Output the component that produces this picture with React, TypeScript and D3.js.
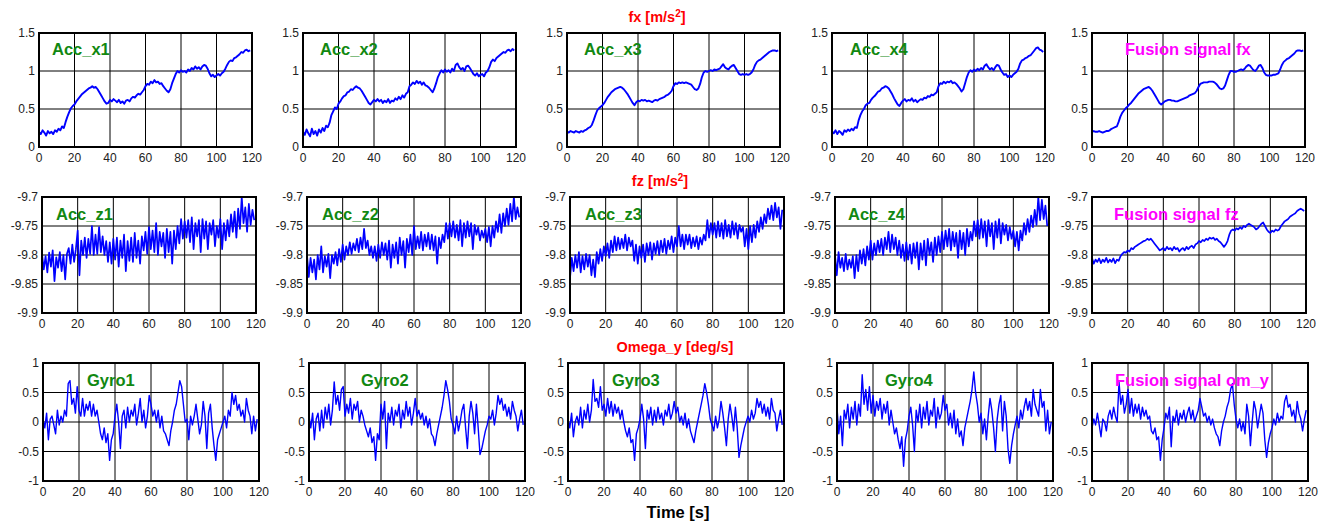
import React from "react";
import * as d3 from "d3";

const width = 1327;
const height = 524;

// time axis, one sample per second
const xTicks = [0, 20, 40, 60, 80, 100, 120];
const fxTicks = [0, 0.5, 1, 1.5];
const fzTicks = [-9.9, -9.85, -9.8, -9.75, -9.7];
const omTicks = [-1, -0.5, 0, 0.5, 1];

const fxLabels = ["Acc_x1", "Acc_x2", "Acc_x3", "Acc_x4", "Fusion signal fx"];
const fzLabels = ["Acc_z1", "Acc_z2", "Acc_z3", "Acc_z4", "Fusion signal fz"];
const omLabels = ["Gyro1", "Gyro2", "Gyro3", "Gyro4", "Fusion signal om_y"];
const rowTitles = ["fx [m/s", "fz [m/s", "Omega_y [deg/s]"];

const accX1 = [
  0.2, 0.17, 0.22, 0.19, 0.15, 0.21, 0.18, 0.2, 0.17, 0.22,
  0.2, 0.24, 0.22, 0.27, 0.25, 0.33, 0.4, 0.46, 0.51, 0.54,
  0.56, 0.6, 0.63, 0.66, 0.69, 0.71, 0.73, 0.75, 0.77, 0.78,
  0.8, 0.78, 0.79, 0.76, 0.72, 0.68, 0.64, 0.6, 0.57, 0.58,
  0.62, 0.6, 0.63, 0.61, 0.59, 0.62, 0.58, 0.6, 0.57, 0.61,
  0.62, 0.6, 0.64, 0.66, 0.65, 0.68, 0.7, 0.69, 0.72, 0.75,
  0.8, 0.83, 0.82, 0.86, 0.84, 0.88, 0.85, 0.86, 0.83, 0.84,
  0.8, 0.77, 0.74, 0.72, 0.76, 0.84, 0.9, 0.96, 1.0, 0.98,
  1.01, 0.99, 1.0, 0.98, 1.02, 1.0, 1.04, 1.02, 1.06, 1.03,
  1.05, 1.02, 1.06, 1.08, 1.07, 1.03, 0.97, 0.93, 0.95, 0.92,
  0.94, 0.96, 0.94, 0.97, 0.99, 1.03, 1.08, 1.12, 1.14, 1.13,
  1.17, 1.18, 1.2, 1.22, 1.25, 1.24, 1.27, 1.28, 1.26, 1.27,
];
const accX2 = [
  0.2, 0.16, 0.23, 0.18, 0.14, 0.24, 0.17, 0.21, 0.15, 0.23,
  0.19, 0.25, 0.21, 0.28, 0.26, 0.32, 0.42, 0.47, 0.52, 0.5,
  0.57, 0.6, 0.64, 0.67, 0.68, 0.72, 0.73, 0.76, 0.75, 0.78,
  0.8, 0.78, 0.77, 0.74, 0.7, 0.66, 0.62, 0.58, 0.56, 0.59,
  0.62, 0.6, 0.63, 0.6, 0.62, 0.58, 0.61, 0.59, 0.63, 0.58,
  0.61, 0.6, 0.64, 0.62, 0.66, 0.63, 0.68, 0.65, 0.7, 0.72,
  0.8, 0.82, 0.85, 0.83, 0.87, 0.84, 0.86, 0.82, 0.85, 0.81,
  0.8, 0.78, 0.75, 0.72, 0.77, 0.84, 0.92, 0.97, 1.01, 0.98,
  1.02, 0.99, 1.01, 0.98, 1.03, 1.0, 1.08, 1.1, 1.05, 1.02,
  1.04, 1.0, 1.06, 1.07, 1.04, 1.0, 0.96, 0.94, 0.97, 0.93,
  0.95, 0.96, 0.93, 0.98, 1.0, 1.05, 1.12, 1.15, 1.13, 1.17,
  1.19, 1.21, 1.23, 1.25, 1.24, 1.27, 1.28, 1.26, 1.29, 1.27,
];
const accX3 = [
  0.2, 0.19, 0.21, 0.2, 0.19, 0.21, 0.2, 0.19, 0.21, 0.2,
  0.22, 0.23, 0.25, 0.26, 0.29, 0.35, 0.42, 0.48, 0.51, 0.53,
  0.55, 0.58, 0.62, 0.66, 0.69, 0.72, 0.74, 0.76, 0.77, 0.78,
  0.79, 0.78, 0.76, 0.73, 0.7, 0.66, 0.62, 0.58, 0.55, 0.59,
  0.61, 0.6, 0.62, 0.61, 0.62, 0.6, 0.61, 0.6, 0.59, 0.61,
  0.62, 0.61, 0.63, 0.64, 0.65, 0.66, 0.68, 0.69, 0.71, 0.74,
  0.8, 0.84, 0.83, 0.85, 0.84, 0.85, 0.84, 0.85, 0.84, 0.83,
  0.82, 0.79, 0.76, 0.75, 0.77, 0.83, 0.92, 0.98, 1.0, 0.99,
  1.0, 1.01, 1.0, 1.02, 1.01, 1.02, 1.03, 1.06, 1.09, 1.05,
  1.03, 1.02, 1.05, 1.07, 1.08, 1.04, 1.0, 0.96, 0.95, 0.96,
  0.95, 0.96, 0.95, 0.96, 0.98, 1.02, 1.08, 1.12, 1.14, 1.15,
  1.17, 1.19, 1.21, 1.23, 1.25, 1.26, 1.27, 1.27, 1.26, 1.27,
];
const accX4 = [
  0.2, 0.18, 0.22, 0.17, 0.21, 0.19, 0.16, 0.22, 0.2, 0.23,
  0.21, 0.24, 0.22, 0.26, 0.25, 0.35, 0.42, 0.47, 0.5, 0.55,
  0.57, 0.58, 0.62, 0.65, 0.67, 0.7, 0.73, 0.74, 0.77, 0.78,
  0.8, 0.79, 0.77, 0.73, 0.69, 0.64, 0.6, 0.56, 0.54, 0.58,
  0.61, 0.63, 0.6, 0.62, 0.61, 0.64, 0.6, 0.62, 0.59, 0.61,
  0.63, 0.62, 0.65, 0.64, 0.67, 0.66, 0.69, 0.68, 0.7, 0.72,
  0.8, 0.84, 0.83, 0.86, 0.84, 0.86, 0.85, 0.87, 0.84, 0.85,
  0.83, 0.8, 0.77, 0.73, 0.76, 0.84, 0.92, 0.98, 1.01, 0.99,
  1.02, 1.0, 1.03, 1.01, 1.04, 1.02, 1.07, 1.09, 1.05, 1.02,
  1.04, 1.01, 1.05, 1.08, 1.07, 1.02, 0.98, 0.95, 0.96, 0.92,
  0.94, 0.92, 0.95, 0.97, 0.99, 1.03, 1.1, 1.14, 1.15, 1.17,
  1.18, 1.2, 1.21, 1.24, 1.27, 1.3, 1.31, 1.28, 1.27, 1.25,
];
const fusionFx = [
  0.2, 0.21, 0.2, 0.2, 0.21, 0.2, 0.19, 0.2, 0.21, 0.21,
  0.22, 0.24, 0.25, 0.26, 0.27, 0.33, 0.4, 0.45, 0.48, 0.51,
  0.53, 0.56, 0.58, 0.61, 0.64, 0.67, 0.7, 0.72, 0.74, 0.76,
  0.77, 0.78, 0.79, 0.77, 0.74, 0.7, 0.66, 0.62, 0.58, 0.56,
  0.58, 0.6, 0.61, 0.62, 0.62, 0.61, 0.61, 0.6, 0.6, 0.61,
  0.62, 0.63, 0.64, 0.65, 0.66, 0.68, 0.69, 0.7, 0.71, 0.74,
  0.79, 0.83, 0.84, 0.85, 0.85, 0.85, 0.86, 0.86, 0.86, 0.85,
  0.83, 0.8, 0.77, 0.76, 0.77, 0.81, 0.88, 0.95, 1.0, 1.0,
  0.99, 0.99, 1.0, 1.01, 1.02, 1.01, 1.03, 1.06, 1.08, 1.07,
  1.04, 1.01, 1.0, 1.03, 1.07, 1.08, 1.04, 0.98, 0.95, 0.94,
  0.94, 0.94, 0.95, 0.95, 0.96, 0.97, 1.02, 1.08, 1.12, 1.14,
  1.16, 1.17, 1.19, 1.21, 1.23, 1.26, 1.27, 1.27, 1.26, 1.27,
];

const accZ1 = [
  -9.798, -9.825, -9.802, -9.83, -9.796, -9.82, -9.792, -9.845, -9.804, -9.822,
  -9.795, -9.828, -9.8, -9.842, -9.798, -9.788, -9.815, -9.782, -9.812, -9.79,
  -9.758, -9.835, -9.775, -9.8, -9.77, -9.805, -9.772, -9.798, -9.75, -9.8,
  -9.765, -9.798, -9.752, -9.795, -9.768, -9.8, -9.776, -9.812, -9.778, -9.815,
  -9.772, -9.808, -9.77, -9.82, -9.775, -9.805, -9.765, -9.828, -9.776, -9.81,
  -9.77, -9.812, -9.762, -9.805, -9.775, -9.815, -9.768, -9.792, -9.76, -9.798,
  -9.752, -9.79, -9.758, -9.795, -9.745, -9.8, -9.76, -9.785, -9.762, -9.805,
  -9.755, -9.795, -9.76, -9.815, -9.758, -9.79, -9.75, -9.78, -9.738, -9.772,
  -9.742, -9.77, -9.74, -9.778, -9.735, -9.79, -9.745, -9.768, -9.74, -9.795,
  -9.738, -9.772, -9.742, -9.79, -9.745, -9.765, -9.74, -9.785, -9.75, -9.77,
  -9.738, -9.79, -9.745, -9.775, -9.74, -9.768, -9.73, -9.76, -9.725, -9.77,
  -9.72, -9.755, -9.7, -9.745, -9.718, -9.76, -9.712, -9.748, -9.722, -9.74,
];
const accZ2 = [
  -9.8, -9.838, -9.805, -9.83, -9.808, -9.842, -9.8, -9.825, -9.785, -9.83,
  -9.802, -9.82, -9.798, -9.84, -9.8, -9.815, -9.795, -9.818, -9.79, -9.812,
  -9.782, -9.808, -9.785, -9.8, -9.778, -9.798, -9.78, -9.792, -9.772, -9.795,
  -9.77, -9.79, -9.755, -9.788, -9.775, -9.8, -9.785, -9.805, -9.785, -9.81,
  -9.782, -9.805, -9.778, -9.8, -9.78, -9.808, -9.775, -9.822, -9.782, -9.805,
  -9.778, -9.815, -9.77, -9.8, -9.776, -9.822, -9.772, -9.795, -9.765, -9.8,
  -9.75, -9.79, -9.768, -9.788, -9.76, -9.792, -9.765, -9.785, -9.762, -9.79,
  -9.765, -9.792, -9.768, -9.815, -9.77, -9.788, -9.765, -9.778, -9.745, -9.772,
  -9.745, -9.768, -9.742, -9.77, -9.748, -9.775, -9.74, -9.785, -9.745, -9.77,
  -9.742, -9.768, -9.745, -9.79, -9.748, -9.765, -9.752, -9.775, -9.758, -9.77,
  -9.755, -9.778, -9.752, -9.785, -9.75, -9.77, -9.742, -9.76, -9.73, -9.762,
  -9.728, -9.75, -9.72, -9.748, -9.712, -9.742, -9.7, -9.738, -9.718, -9.735,
];
const accZ3 = [
  -9.84, -9.805, -9.828, -9.8, -9.822, -9.795, -9.83, -9.802, -9.825, -9.798,
  -9.82, -9.8, -9.835, -9.808, -9.838, -9.795, -9.815, -9.79, -9.81, -9.785,
  -9.802, -9.78, -9.805, -9.775, -9.795, -9.768, -9.792, -9.77, -9.79, -9.772,
  -9.788, -9.765, -9.792, -9.77, -9.785, -9.775, -9.81, -9.782, -9.815, -9.785,
  -9.805, -9.782, -9.812, -9.78, -9.8, -9.778, -9.808, -9.78, -9.798, -9.776,
  -9.8, -9.775, -9.795, -9.772, -9.798, -9.775, -9.79, -9.768, -9.795, -9.77,
  -9.785, -9.75, -9.785, -9.765, -9.79, -9.765, -9.782, -9.765, -9.788, -9.77,
  -9.785, -9.768, -9.79, -9.77, -9.782, -9.765, -9.775, -9.74, -9.77, -9.745,
  -9.765, -9.745, -9.77, -9.742, -9.768, -9.745, -9.772, -9.74, -9.768, -9.748,
  -9.77, -9.742, -9.765, -9.745, -9.772, -9.748, -9.76, -9.752, -9.785, -9.755,
  -9.79, -9.75, -9.778, -9.748, -9.77, -9.742, -9.76, -9.735, -9.755, -9.73,
  -9.745, -9.72, -9.738, -9.715, -9.74, -9.71, -9.735, -9.718, -9.755, -9.722,
];
const accZ4 = [
  -9.8, -9.835, -9.795, -9.822, -9.805, -9.828, -9.798, -9.825, -9.808, -9.822,
  -9.802, -9.84, -9.8, -9.828, -9.792, -9.815, -9.79, -9.818, -9.785, -9.808,
  -9.775, -9.808, -9.78, -9.8, -9.775, -9.795, -9.772, -9.8, -9.77, -9.79,
  -9.76, -9.795, -9.765, -9.79, -9.77, -9.8, -9.775, -9.805, -9.782, -9.81,
  -9.778, -9.808, -9.782, -9.815, -9.78, -9.805, -9.778, -9.825, -9.78, -9.808,
  -9.775, -9.818, -9.772, -9.8, -9.778, -9.812, -9.77, -9.8, -9.768, -9.795,
  -9.76, -9.79, -9.758, -9.785, -9.755, -9.792, -9.76, -9.785, -9.762, -9.805,
  -9.758, -9.79, -9.762, -9.8, -9.755, -9.785, -9.76, -9.775, -9.742, -9.768,
  -9.74, -9.772, -9.738, -9.77, -9.742, -9.785, -9.74, -9.768, -9.745, -9.79,
  -9.742, -9.77, -9.738, -9.78, -9.745, -9.765, -9.748, -9.775, -9.752, -9.772,
  -9.758, -9.785, -9.76, -9.792, -9.758, -9.775, -9.745, -9.765, -9.738, -9.76,
  -9.732, -9.752, -9.722, -9.748, -9.7, -9.74, -9.705, -9.738, -9.715, -9.75,
];
const fusionFz = [
  -9.805, -9.815, -9.808, -9.812, -9.806, -9.814, -9.808, -9.812, -9.805, -9.813,
  -9.808, -9.812, -9.806, -9.814, -9.808, -9.81, -9.802, -9.798, -9.795, -9.796,
  -9.792, -9.794, -9.788, -9.79, -9.786, -9.784, -9.782, -9.78, -9.778, -9.776,
  -9.775, -9.772, -9.774, -9.772, -9.776, -9.78, -9.784, -9.788, -9.792, -9.79,
  -9.788, -9.792, -9.786, -9.79, -9.788, -9.792, -9.786, -9.79, -9.788, -9.794,
  -9.79, -9.788, -9.792, -9.786, -9.79, -9.786, -9.784, -9.788, -9.782, -9.78,
  -9.776, -9.778, -9.774, -9.776, -9.772, -9.774, -9.77, -9.772, -9.77, -9.774,
  -9.772, -9.776, -9.778, -9.782, -9.786, -9.782, -9.776, -9.765, -9.758, -9.756,
  -9.758, -9.754, -9.756, -9.752, -9.755, -9.75, -9.752, -9.748, -9.746, -9.748,
  -9.75, -9.752, -9.756, -9.754, -9.75, -9.746, -9.744, -9.75, -9.756, -9.76,
  -9.762, -9.758, -9.76, -9.756, -9.758, -9.756, -9.75, -9.746, -9.742, -9.74,
  -9.738, -9.734, -9.732, -9.73, -9.728, -9.724, -9.722, -9.72, -9.722, -9.724,
];

const gyro1 = [
  0.05, -0.1, 0.15, -0.3, 0.05, 0.1, -0.05, -0.2, 0.2, -0.05,
  0.1, 0.0, 0.2, 0.1, 0.65, 0.7, 0.3, 0.4, 0.15, 0.6,
  0.2, 0.1, 0.4, 0.1, 0.3, 0.2, 0.35, 0.1, 0.3, 0.1,
  0.2, 0.0, -0.2, -0.3, -0.1, -0.35, -0.2, -0.65, -0.3, -0.2,
  0.1, 0.3, 0.0, -0.45, 0.1, 0.2, -0.1, 0.25, 0.0, 0.2,
  0.1, 0.3, -0.05, 0.15, 0.4, 0.0, 0.2, -0.1, 0.1, 0.45,
  0.3, 0.1, 0.2, 0.0, 0.2, -0.1, 0.1, -0.15, -0.2, -0.3,
  -0.4, -0.15, 0.0, 0.2, 0.3, 0.5, 0.7, 0.6, 0.3, 0.0,
  0.05, -0.3, 0.1, -0.05, 0.1, 0.3, 0.05, -0.2, -0.05, 0.35,
  0.1, -0.45, 0.15, 0.3, -0.1, -0.4, -0.65, -0.3, -0.2, -0.1,
  0.0, 0.1, -0.1, 0.2, 0.1, 0.5, 0.3, 0.45, 0.2, 0.3,
  0.1, 0.2, 0.0, 0.4, 0.2, 0.1, -0.2, 0.1, -0.15, 0.05,
];
const gyro2 = [
  0.1, -0.1, 0.15, -0.3, 0.05, 0.15, -0.15, 0.2, -0.1, 0.25,
  0.05, 0.3, -0.05, 0.2, 0.68, 0.3, 0.45, 0.2, 0.55, 0.6,
  0.1, 0.3, 0.15, 0.4, 0.05, 0.3, 0.2, 0.35, 0.0, 0.2,
  0.1, -0.05, -0.15, -0.25, -0.1, -0.35, -0.25, -0.65, -0.2, -0.3,
  0.3, 0.05, 0.35, -0.45, 0.15, 0.0, 0.25, -0.05, 0.2, 0.1,
  0.3, -0.1, 0.2, 0.05, 0.35, 0.1, 0.25, -0.05, 0.15, 0.4,
  0.1, 0.2, 0.05, 0.15, -0.05, 0.1, -0.1, 0.05, -0.2, -0.25,
  -0.4, -0.2, -0.05, 0.1, 0.25, 0.45, 0.7, 0.55, 0.35, 0.05,
  -0.05, -0.2, 0.1, -0.15, 0.0, 0.2, 0.3, -0.1, -0.45, 0.1,
  0.35, 0.15, -0.2, 0.3, -0.1, -0.55, -0.45, -0.3, -0.15, -0.05,
  0.1, 0.05, 0.2, -0.05, 0.15, 0.45, 0.3, 0.4, 0.2, 0.3,
  0.1, 0.25, 0.05, 0.35, 0.2, 0.1, -0.15, 0.05, 0.2, -0.05,
];
const gyro3 = [
  0.05, -0.1, 0.15, -0.25, 0.0, 0.1, -0.05, 0.25, -0.1, 0.2,
  0.05, 0.3, 0.0, 0.2, 0.72, 0.35, 0.4, 0.25, 0.6, 0.2,
  0.3, 0.1, 0.4, 0.15, 0.35, 0.1, 0.3, 0.15, 0.25, 0.05,
  0.2, 0.0, -0.15, -0.25, -0.1, -0.35, -0.3, -0.65, -0.2, -0.1,
  0.05, 0.3, 0.05, -0.45, 0.2, 0.05, 0.25, -0.05, 0.2, 0.0,
  0.25, 0.05, 0.15, -0.05, 0.2, 0.1, 0.3, 0.05, 0.15, 0.35,
  0.15, 0.25, 0.0, 0.1, -0.05, 0.15, -0.1, 0.05, -0.15, -0.25,
  -0.35, -0.15, 0.0, 0.15, 0.3, 0.45, 0.65, 0.5, 0.3, 0.05,
  -0.05, -0.15, 0.1, -0.1, 0.05, 0.35, 0.15, -0.1, -0.4, 0.05,
  0.3, 0.1, -0.15, 0.25, -0.1, -0.6, -0.4, -0.25, -0.1, 0.0,
  0.1, 0.0, 0.2, 0.05, 0.15, 0.4, 0.25, 0.35, 0.15, 0.3,
  0.1, 0.25, 0.05, 0.4, 0.2, 0.15, -0.15, 0.05, 0.2, -0.05,
];
const gyro4 = [
  0.25, -0.2, 0.1, -0.4, 0.2, 0.05, 0.3, -0.1, 0.25, 0.05,
  0.35, -0.05, 0.3, 0.1, 0.8, 0.3, 0.55, 0.2, 0.6, 0.15,
  0.45, 0.1, 0.35, 0.2, 0.4, 0.05, 0.3, 0.15, 0.35, -0.05,
  0.2, 0.0, -0.2, -0.1, -0.3, -0.45, -0.25, -0.75, -0.3, -0.15,
  0.1, 0.25, -0.05, -0.5, 0.2, 0.0, 0.3, -0.1, 0.25, 0.05,
  0.35, -0.05, 0.2, 0.1, 0.4, -0.1, 0.25, 0.05, 0.15, 0.45,
  0.2, 0.3, -0.05, 0.15, -0.1, 0.2, -0.2, 0.05, -0.25, -0.15,
  -0.4, -0.1, 0.05, 0.2, 0.35, 0.55, 0.85, 0.5, 0.3, 0.0,
  0.15, -0.2, 0.05, -0.3, 0.1, 0.4, 0.2, -0.1, -0.5, 0.05,
  0.3, 0.45, -0.15, 0.35, 0.1, -0.45, -0.7, -0.4, -0.2, -0.05,
  0.1, -0.1, 0.2, 0.05, 0.25, 0.4, 0.2, 0.35, 0.1, 0.55,
  0.3, 0.2, 0.1, 0.55, 0.25, 0.35, -0.15, 0.2, -0.2, 0.0,
];
const fusionOmY = [
  -0.1, 0.05, -0.05, 0.15, -0.05, -0.25, 0.05, 0.0, -0.15, 0.1,
  0.2, 0.05, 0.25, 0.1, 0.0, 0.68, 0.3, 0.45, 0.15, 0.3,
  0.55, 0.15, 0.4, 0.1, 0.3, 0.15, 0.3, 0.05, 0.25, 0.1,
  0.2, 0.05, 0.1, -0.15, -0.2, -0.1, -0.3, -0.25, -0.65, -0.3,
  -0.1, 0.15, 0.05, 0.25, -0.42, 0.1, 0.0, 0.2, -0.05, 0.15,
  0.05, 0.2, 0.0, 0.15, 0.25, 0.05, 0.2, 0.0, 0.1, 0.2,
  0.4, 0.25, 0.1, 0.15, 0.0, 0.1, -0.05, 0.05, -0.1, -0.2,
  -0.25, -0.4, -0.15, 0.0, 0.1, 0.25, 0.35, 0.55, 0.65, 0.3,
  0.05, -0.1, 0.05, -0.15, 0.0, -0.2, 0.3, 0.1, -0.4, 0.0,
  0.35, 0.2, -0.1, 0.1, 0.3, 0.15, -0.3, -0.6, -0.35, -0.2,
  -0.1, 0.05, -0.05, 0.15, 0.0, 0.1, 0.05, 0.35, 0.45, 0.25,
  0.3, 0.1, 0.2, 0.0, 0.35, 0.15, 0.05, -0.15, 0.05, 0.2,
];

// layout of the 3 x 5 grid (plot rectangles and label anchors)
const rowsLayout = [
  { top: 33, bottom: 147, lefts: [39, 303, 567, 832, 1092], w: 213,
    labelX: [52, 320, 584, 850, 1125], labelY: 55, titleX: 657, titleY: 22, stroke: 1.9 },
  { top: 197, bottom: 313, lefts: [42, 307, 570, 835, 1092], w: 214,
    labelX: [56, 322, 585, 848, 1114], labelY: 220, titleX: 660, titleY: 186, stroke: 1.7 },
  { top: 363, bottom: 481, lefts: [43, 309, 568, 837, 1092], w: 216,
    labelX: [87, 361, 612, 885, 1115], labelY: 386, titleX: 675, titleY: 352, stroke: 1.4 },
];

const rows = [
  { domain: [0, 1.5], ticks: fxTicks, series: [accX1, accX2, accX3, accX4, fusionFx], labels: fxLabels },
  { domain: [-9.9, -9.7], ticks: fzTicks, series: [accZ1, accZ2, accZ3, accZ4, fusionFz], labels: fzLabels },
  { domain: [-1, 1], ticks: omTicks, series: [gyro1, gyro2, gyro3, gyro4, fusionOmY], labels: omLabels },
];

const font = "'Liberation Sans', Arial, Helvetica, sans-serif";

const Panel = ({ id, left, top, w, h, domain, ticks, values, label, labelX, labelY, fusion, stroke }) => {
  const x = d3.scaleLinear().domain([0, 120]).range([left, left + w]);
  const y = d3.scaleLinear().domain(domain).range([top + h, top]);
  const line = d3
    .line<number>()
    .x((_, i) => x(i))
    .y((d) => y(d));

  return (
    <g>
      <defs>
        <clipPath id={id}>
          <rect x={left} y={top} width={w} height={h} />
        </clipPath>
      </defs>
      <rect x={left} y={top} width={w} height={h} fill="#fff" />
      {xTicks.map((t) => (
        <line key={"gx" + t} x1={x(t)} x2={x(t)} y1={top} y2={top + h} stroke="#000" strokeWidth={1} />
      ))}
      {ticks.map((t) => (
        <line key={"gy" + t} x1={left} x2={left + w} y1={y(t)} y2={y(t)} stroke="#000" strokeWidth={1} />
      ))}
      <path d={line(values) || ""} fill="none" stroke="#0000ff" strokeWidth={stroke} strokeLinejoin="round" clipPath={`url(#${id})`} />
      <rect x={left} y={top} width={w} height={h} fill="none" stroke="#000" strokeWidth={2} />
      {xTicks.map((t) => (
        <text key={"tx" + t} x={x(t)} y={top + h + 15} textAnchor="middle" fontSize={12} fill="#222" fontFamily={font}>
          {t}
        </text>
      ))}
      {ticks.map((t) => (
        <text key={"ty" + t} x={left - 4} y={y(t)} dy="0.35em" textAnchor="end" fontSize={12} fill="#222" fontFamily={font}>
          {t}
        </text>
      ))}
      <text x={labelX} y={labelY} fontSize={16.5} fontWeight="bold" fill={fusion ? "#ff00ff" : "#118811"} fontFamily={font}>
        {label}
      </text>
    </g>
  );
};

export default function App() {
  return (
    <svg width={width} height={height} style={{ position: "absolute", left: 0, top: 0, background: "#fff" }}>
      {rows.map((row, r) => {
        const lay = rowsLayout[r];
        const h = lay.bottom - lay.top;
        return (
          <g key={r}>
            {row.series.map((values, c) => (
              <Panel
                key={c}
                id={`clip-${r}-${c}`}
                left={lay.lefts[c]}
                top={lay.top}
                w={lay.w}
                h={h}
                domain={row.domain}
                ticks={row.ticks}
                values={values}
                label={row.labels[c]}
                labelX={lay.labelX[c]}
                labelY={lay.labelY}
                fusion={c === 4}
                stroke={lay.stroke}
              />
            ))}
            <text x={lay.titleX} y={lay.titleY} textAnchor="middle" fontSize={14.5} fontWeight="bold" fill="#ff0000" fontFamily={font}>
              {r < 2 ? (
                <>
                  {rowTitles[r]}
                  <tspan dy={-5} fontSize={10}>2</tspan>
                  <tspan dy={5}>]</tspan>
                </>
              ) : (
                rowTitles[r]
              )}
            </text>
          </g>
        );
      })}
      <text x={678} y={518} textAnchor="middle" fontSize={16.5} fontWeight="bold" fill="#000" fontFamily={font}>
        Time [s]
      </text>
    </svg>
  );
}
